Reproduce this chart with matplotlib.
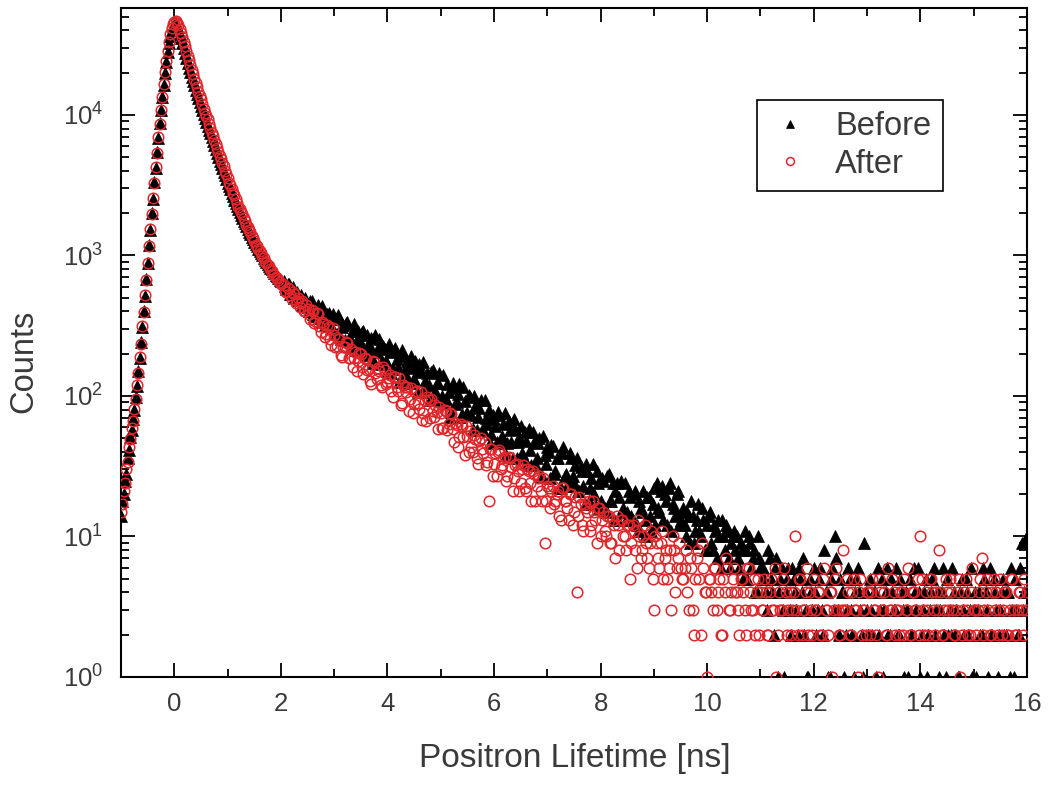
import numpy as np
import matplotlib
matplotlib.use("Agg")
import matplotlib.pyplot as plt
from matplotlib.ticker import LogLocator, MultipleLocator, NullFormatter

plt.rcParams['font.family'] = ['Liberation Sans', 'DejaVu Sans']

# ---- channel grids (ns) ----
SEG1_START, SEG1_STEP = -1.0, 0.025    # fine channels around the peak
SEG2_START, SEG2_STEP = 2.05, 0.05     # tail channels (even)
SEG3_START, SEG3_STEP = 2.075, 0.05    # tail channels (odd, interleaved)

# ---- counts, "Before" (black triangles) ----
before_seg1 = [
    14, 18, 20, 25, 28, 36, 41, 51, 57, 69, 79, 98, 117, 150, 186, 242, 308, 404, 515, 684,
    880, 1180, 1510, 1990, 2530, 3310, 4220, 5420, 6850, 8720, 10800, 13400, 16400, 19800, 23700, 27900, 32400, 36600, 40300, 43000,
    44300, 44200, 42800, 40500, 37800, 35000, 32300, 29800, 27500, 25400, 23500, 21700, 20100, 18700, 17400, 16200, 15100, 14100, 13200, 12300,
    11500, 10800, 10100, 9480, 8900, 8360, 7850, 7380, 6940, 6480, 6060, 5680, 5330, 5020, 4730, 4450, 4190, 3950, 3720, 3500,
    3300, 3120, 2950, 2790, 2640, 2500, 2370, 2250, 2140, 2040, 1945, 1855, 1770, 1690, 1615, 1545, 1480, 1420, 1360, 1305,
    1255, 1205, 1160, 1115, 1075, 1035, 1000, 965, 932, 902, 873, 846, 820, 795, 772, 750, 729, 709, 690, 672,
    655,
]
before_seg2 = [
    657, 578, 626, 546, 498, 551, 505, 447, 500, 427,
    475, 381, 414, 445, 336, 389, 337, 391, 305, 352,
    278, 358, 308, 249, 336, 258, 293, 214, 288, 239,
    290, 197, 235, 258, 173, 206, 254, 176, 215, 150,
    207, 155, 219, 162, 129, 191, 160, 127, 194, 131,
    148, 168, 107, 127, 146, 94, 154, 109, 124, 94,
    140, 95, 106, 77, 113, 90, 122, 74, 92, 75,
    98, 58, 85, 71, 94, 57, 70, 79, 54, 69,
    47, 73, 52, 76, 46, 57, 36, 58, 47, 61,
    37, 48, 58, 32, 47, 36, 50, 27, 38, 43,
    26, 44, 29, 36, 22, 43, 28, 23, 36, 24,
    36, 21, 29, 17, 29, 22, 33, 17, 24, 18,
    25, 15, 28, 18, 13, 24, 19, 15, 24, 15,
    19, 13, 21, 11, 16, 21, 13, 19, 11, 22,
    24, 15, 23, 20, 12, 24, 17, 14, 21, 13,
    16, 10, 14, 18, 9, 13, 11, 16, 8, 12,
    15, 8, 11, 13, 6, 10, 12, 7, 9, 11,
    10, 6, 8, 11, 5, 9, 7, 4, 10, 6,
    6, 4, 8, 5, 2, 7, 4, 6, 1, 5,
    3, 6, 4, 2, 5, 7, 3, 1, 4, 6,
    2, 5, 3, 8, 4, 1, 6, 10, 3, 5,
    4, 2, 6, 3, 1, 5, 4, 2, 9, 3,
    5, 2, 4, 6, 3, 1, 4, 2, 5, 3,
    6, 2, 4, 1, 3, 5, 2, 4, 6, 1,
    3, 5, 2, 4, 6, 3, 1, 4, 2, 5,
    3, 6, 2, 1, 4, 3, 5, 2, 6, 3,
    1, 4, 2, 5, 3, 6, 2, 4, 1, 3,
    5, 2, 4, 6, 1, 3, 2, 9, 4, 10,
]
before_seg3 = [
    601, 626, 534, 596, 530, 479, 524, 453, 472, 403,
    477, 368, 420, 361, 436, 318, 386, 327, 381, 279,
    378, 254, 318, 332, 253, 218, 323, 249, 215, 287,
    201, 273, 214, 171, 271, 220, 168, 227, 177, 235,
    146, 214, 182, 126, 213, 144, 178, 124, 159, 177,
    106, 150, 173, 110, 120, 148, 96, 123, 146, 100,
    89, 121, 71, 124, 88, 103, 71, 116, 74, 101,
    73, 100, 57, 82, 57, 93, 63, 46, 73, 61,
    77, 46, 63, 38, 66, 47, 69, 36, 51, 39,
    55, 33, 41, 55, 33, 46, 27, 52, 33, 40,
    45, 28, 36, 22, 39, 27, 23, 39, 27, 32,
    21, 31, 23, 33, 18, 26, 20, 29, 16, 26,
    16, 27, 18, 24, 21, 13, 25, 16, 13, 21,
    14, 20, 12, 18, 15, 10, 19, 14, 17, 12,
    16, 21, 13, 18, 22, 11, 16, 20, 12, 15,
    12, 15, 9, 14, 11, 17, 10, 13, 8, 14,
    9, 12, 7, 10, 13, 8, 11, 6, 10, 8,
    7, 9, 5, 8, 10, 6, 8, 4, 7, 5,
    5, 3, 7, 4, 6, 1, 5, 3, 4, 6,
    2, 5, 3, 6, 4, 2, 1, 5, 3, 4,
    3, 6, 2, 4, 1, 5, 3, 7, 2, 4,
    1, 3, 5, 2, 4, 6, 3, 1, 4, 2,
    3, 4, 1, 2, 5, 3, 6, 2, 4, 3,
    2, 5, 3, 4, 1, 2, 6, 3, 4, 2,
    4, 1, 3, 5, 2, 4, 3, 6, 1, 2,
    2, 4, 3, 1, 5, 2, 4, 3, 1, 4,
    3, 2, 6, 4, 1, 2, 5, 3, 2, 4,
    2, 4, 1, 3, 5, 2, 6, 3, 4,
]

# ---- counts, "After" (red open circles) ----
after_seg1 = [
    15, 17, 21, 24, 30, 34, 43, 49, 59, 66, 81, 95, 120, 146, 190, 236, 315, 396, 525, 672,
    890, 1170, 1530, 1960, 2560, 3280, 4270, 5380, 6920, 8680, 10900, 13500, 16600, 20100, 24000, 28400, 33100, 37600, 41600, 44600,
    46200, 46400, 45300, 43400, 41000, 38300, 35700, 33100, 30700, 28400, 26300, 24400, 22600, 21000, 19500, 18100, 16800, 15700, 14600, 13600,
    12900, 11900, 10950, 10400, 9750, 9280, 8580, 8050, 7430, 7050, 6580, 6160, 5800, 5460, 5060, 4830, 4540, 4340, 4010, 3770,
    3540, 3280, 3150, 2970, 2800, 2700, 2510, 2380, 2210, 2150, 2040, 1980, 1840, 1750, 1640, 1590, 1515, 1475, 1385, 1320,
    1265, 1190, 1165, 1115, 1070, 1045, 990, 955, 905, 888, 858, 842, 802, 776, 741, 728, 706, 694, 665, 645,
    626,
]
after_seg2 = [
    612, 552, 580, 493, 528, 477, 430, 477, 405, 417,
    351, 404, 340, 384, 285, 326, 277, 312, 230, 272,
    225, 255, 189, 224, 240, 185, 162, 205, 178, 198,
    144, 182, 156, 122, 173, 133, 151, 115, 152, 125,
    142, 98, 137, 109, 86, 119, 107, 78, 114, 88,
    108, 81, 67, 93, 99, 70, 78, 86, 58, 76,
    59, 78, 63, 74, 47, 62, 51, 61, 38, 52,
    56, 40, 49, 33, 50, 39, 32, 18, 42, 33,
    27, 41, 32, 37, 27, 36, 21, 32, 29, 24,
    32, 21, 29, 18, 28, 23, 27, 18, 9, 23,
    16, 23, 18, 21, 13, 22, 18, 13, 20, 15,
    4, 19, 12, 17, 15, 11, 18, 13, 16, 10,
    15, 10, 14, 9, 12, 14, 8, 13, 10, 12,
    5, 12, 8, 13, 7, 10, 9, 6, 11, 3,
    9, 6, 11, 7, 5, 8, 10, 4, 7, 6,
    5, 8, 3, 6, 2, 7, 5, 9, 4, 1,
    5, 3, 6, 4, 2, 5, 7, 3, 4, 6,
    4, 2, 5, 3, 6, 4, 3, 2, 5, 4,
    3, 4, 2, 5, 3, 1, 4, 3, 6, 2,
    4, 3, 10, 2, 5, 3, 4, 2, 3, 5,
    3, 4, 2, 6, 3, 4, 1, 5, 3, 2,
    8, 3, 4, 2, 5, 3, 4, 2, 3, 4,
    2, 5, 3, 1, 4, 3, 2, 6, 3, 4,
    3, 2, 4, 5, 3, 2, 4, 3, 5, 10,
    3, 4, 2, 5, 3, 4, 8, 2, 3, 4,
    5, 3, 2, 4, 1, 3, 5, 2, 4, 3,
    2, 4, 7, 3, 5, 2, 4, 3, 2, 5,
    3, 4, 2, 5, 3, 2, 4, 3, 5, 4,
]
after_seg3 = [
    559, 591, 525, 550, 458, 496, 457, 405, 445, 382,
    409, 329, 392, 316, 336, 262, 320, 255, 304, 223,
    256, 197, 224, 244, 186, 216, 185, 150, 202, 162,
    187, 152, 128, 176, 145, 157, 119, 160, 121, 134,
    109, 137, 116, 134, 89, 116, 116, 95, 75, 106,
    89, 106, 76, 66, 93, 95, 71, 77, 84, 59,
    80, 57, 76, 58, 64, 43, 63, 51, 61, 40,
    43, 53, 36, 48, 42, 47, 34, 42, 27, 39,
    40, 30, 36, 25, 37, 31, 26, 33, 21, 30,
    22, 30, 24, 29, 18, 26, 21, 26, 18, 22,
    21, 17, 20, 14, 22, 18, 16, 20, 12, 19,
    14, 17, 11, 16, 18, 12, 15, 9, 16, 13,
    11, 14, 9, 13, 7, 12, 13, 10, 8, 12,
    9, 11, 6, 10, 8, 12, 7, 9, 5, 10,
    7, 9, 5, 8, 6, 3, 8, 6, 9, 5,
    6, 4, 7, 3, 5, 8, 2, 6, 4, 5,
    4, 6, 3, 5, 2, 4, 6, 3, 5, 4,
    3, 5, 4, 2, 6, 3, 5, 4, 2, 3,
    5, 2, 4, 3, 6, 2, 3, 5, 4, 3,
    2, 4, 3, 5, 2, 3, 6, 4, 2, 3,
    4, 2, 5, 3, 2, 4, 3, 6, 2, 3,
    3, 5, 2, 4, 3, 1, 5, 3, 2, 4,
    4, 3, 2, 5, 3, 4, 2, 3, 5, 2,
    3, 4, 2, 3, 6, 2, 4, 3, 2, 5,
    2, 3, 5, 4, 2, 3, 4, 2, 5, 3,
    4, 2, 3, 5, 2, 4, 3, 2, 6, 3,
    3, 5, 2, 4, 3, 2, 5, 4, 3, 2,
    4, 2, 3, 5, 2, 3, 4, 2, 3,
]

x_tick_values = [0, 2, 4, 6, 8, 10, 12, 14, 16]
series_labels = ["Before", "After"]


def channels(start, step, n):
    return start + step * np.arange(n)


def assemble(seg1, seg2, seg3):
    x = np.concatenate([channels(SEG1_START, SEG1_STEP, len(seg1)),
                        channels(SEG2_START, SEG2_STEP, len(seg2)),
                        channels(SEG3_START, SEG3_STEP, len(seg3))])
    y = np.array(seg1 + seg2 + seg3, dtype=float)
    order = np.argsort(x, kind='stable')
    return x[order], y[order]


x_before, y_before = assemble(before_seg1, before_seg2, before_seg3)
x_after, y_after = assemble(after_seg1, after_seg2, after_seg3)

TEXT = '#3a3a3a'
RED = '#e0262a'

fig = plt.figure(figsize=(10.52, 7.87), dpi=100)
ax = fig.add_axes([0.1150, 0.1398, 0.8612, 0.8501])
ax.set_yscale('log')

ax.plot(x_before, y_before, linestyle='none', marker='^', ms=8.5,
        mfc='black', mec='black', mew=0.5, label=series_labels[0], zorder=2)
ax.plot(x_after, y_after, linestyle='none', marker='o', ms=7.6,
        mfc='none', mec=RED, mew=1.1, label=series_labels[1], zorder=3)

ax.set_xlim(-1, 16)
ax.set_ylim(1, 57700)

ax.set_xticks(x_tick_values)
ax.xaxis.set_minor_locator(MultipleLocator(1))
ax.yaxis.set_major_locator(LogLocator(base=10, numticks=10))
ax.yaxis.set_minor_locator(LogLocator(base=10, subs=np.arange(2, 10), numticks=20))
ax.yaxis.set_minor_formatter(NullFormatter())

ax.tick_params(which='both', direction='in', top=True, right=True,
               colors='black', labelcolor=TEXT, width=1.3)
ax.tick_params(which='major', length=10, labelsize=18.5)
ax.tick_params(which='minor', length=5.5)
ax.tick_params(axis='x', which='major', pad=11)
ax.tick_params(axis='y', which='major', pad=13)
for sp in ax.spines.values():
    sp.set_linewidth(1.5)

ax.set_xlabel("Positron Lifetime [ns]", fontsize=24, color=TEXT)
ax.set_ylabel("Counts", fontsize=23.5, color=TEXT)
ax.xaxis.set_label_coords(0.501, -0.098)
ax.yaxis.set_label_coords(-0.090, 0.471)

leg = ax.legend(loc='upper left', bbox_to_anchor=(0.702, 0.8625), borderaxespad=0,
                frameon=True, fancybox=False, edgecolor='black', fontsize=23.5,
                markerscale=0.75, handlelength=1.3, handletextpad=0.75,
                borderpad=0.35, labelspacing=0.2, framealpha=1)
leg.get_frame().set_linewidth(1.2)
for t in leg.get_texts():
    t.set_color(TEXT)

fig.savefig("out.png", dpi=100)
